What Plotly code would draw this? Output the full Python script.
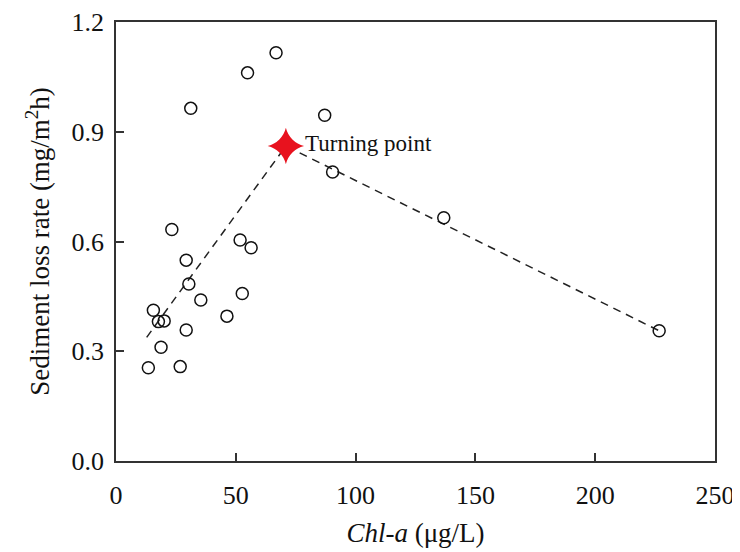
import plotly.graph_objects as go

# Observed data (Chl-a in µg/L, sediment loss rate in mg/m2h)
chl_a = [13.5, 15.6, 17.7, 20.1, 18.8, 26.8, 29.3, 30.4, 29.3, 35.4, 46.3,
         51.8, 56.4, 52.7, 23.3, 31.2, 54.9, 66.8, 87.1, 90.4, 136.8, 226.7]
loss_rate = [0.255, 0.412, 0.381, 0.383, 0.311, 0.258, 0.549, 0.484, 0.358, 0.440, 0.396,
             0.604, 0.583, 0.458, 0.633, 0.964, 1.061, 1.116, 0.945, 0.790, 0.665, 0.356]

# Piecewise fit through the turning point
fit_x = [12.8, 70.9, 226.7]
fit_y = [0.338, 0.861, 0.356]

turn_x = [70.9]
turn_y = [0.861]
turn_label = "Turning point"

x_ticks = [0, 50, 100, 150, 200, 250]
y_ticks = [0.0, 0.3, 0.6, 0.9, 1.2]

FONT = "Liberation Serif, Times New Roman, serif"
TXT = "#111111"

fig = go.Figure()
fig.add_trace(go.Scatter(
    x=fit_x, y=fit_y, mode="lines",
    line=dict(color="#222222", width=1.5, dash="8px,6px"),
    hoverinfo="skip", showlegend=False))
fig.add_trace(go.Scatter(
    x=chl_a, y=loss_rate, mode="markers",
    marker=dict(symbol="circle-open", size=12, color="#111111", line=dict(width=1.5)),
    showlegend=False))
fig.add_trace(go.Scatter(
    x=turn_x, y=turn_y, mode="markers",
    marker=dict(symbol="star-diamond", size=26, color="#e8121e", line=dict(width=0)),
    showlegend=False))

fig.add_annotation(x=turn_x[0], y=turn_y[0], text=turn_label, showarrow=False,
                   xanchor="left", yanchor="middle", xshift=17, yshift=3,
                   font=dict(family=FONT, size=23, color=TXT))

axis_common = dict(
    showgrid=False, zeroline=False, showline=True, linecolor="#333333", linewidth=1.5,
    mirror=True, ticks="inside", ticklen=8, tickwidth=1.5, tickcolor="#333333",
    tickfont=dict(family=FONT, size=26, color=TXT), automargin=False,
)

fig.update_xaxes(range=[0, 250], tickvals=x_ticks, ticktext=[str(v) for v in x_ticks],
                 ticklabelstandoff=10,
                 title=dict(text="<i>Chl-a</i> (μg/L)", font=dict(family=FONT, size=27, color=TXT),
                            standoff=14),
                 **axis_common)
fig.update_yaxes(range=[0, 1.2], tickvals=y_ticks, ticktext=[f"{v:.1f}" for v in y_ticks],
                 ticklabelstandoff=5,
                 title=dict(text="Sediment loss rate (mg/m<sup>2</sup>h)",
                            font=dict(family=FONT, size=27, color=TXT), standoff=14),
                 **axis_common)

# The page body adds an 8 px margin, so the figure is sized to fit inside the window.
fig.update_layout(
    width=732, height=544,
    margin=dict(l=108, r=25, t=14, b=91),
    plot_bgcolor="white", paper_bgcolor="white",
    font=dict(family=FONT),
)

fig.write_html("out.html")
